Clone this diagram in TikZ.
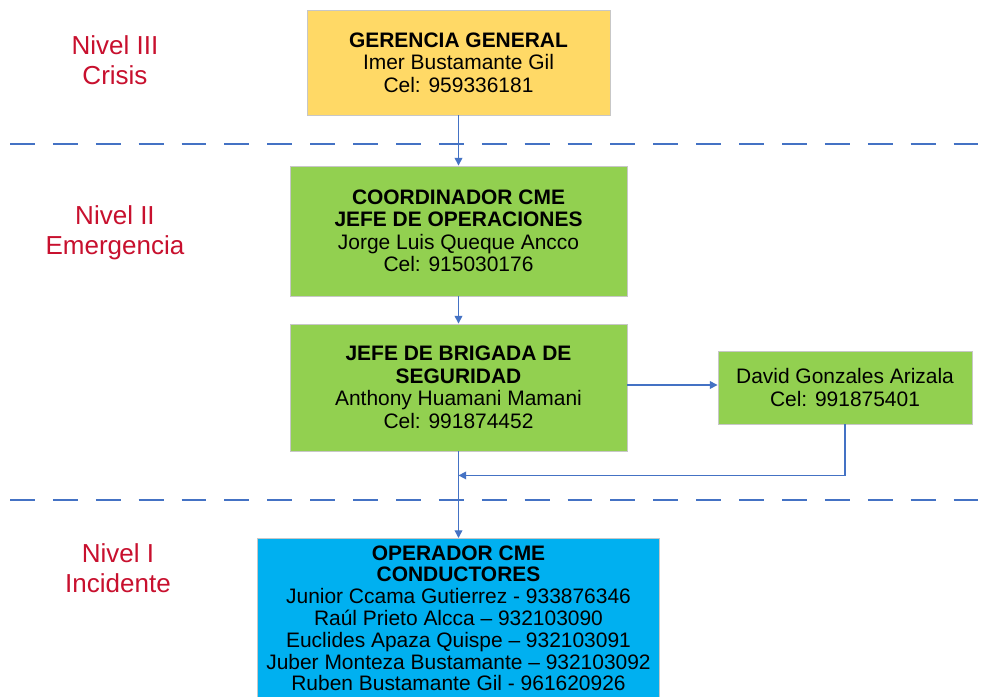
\documentclass[tikz,border=0pt]{standalone}
\usepackage{fontspec}
\setmainfont{Liberation Sans}
\usepackage{xcolor}
\usetikzlibrary{positioning,arrows.meta,calc}
\definecolor{cgold}{HTML}{FFD966}
\definecolor{cgreen}{HTML}{92D050}
\definecolor{ccyan}{HTML}{00B0F0}
\definecolor{cred}{HTML}{C8102E}
\definecolor{cblue}{HTML}{4472C4}

\tikzset{
  orgbox/.style={draw=black!22, line width=0.6pt, align=center, inner sep=2pt,
    font=\fontsize{14.9}{16}\selectfont},
  nivel/.style={text=cred, align=center, font=\fontsize{18.5}{21}\selectfont},
  conn/.style={cblue, line width=1pt, -{Triangle[length=5.5pt,width=5.5pt]}},
  levelline/.style={cblue, line width=1pt, dash pattern=on 17.7pt off 12.8pt}
}

\begin{document}
\begin{tikzpicture}[x=0.025cm, y=-0.025cm]
  \useasboundingbox (0,0) rectangle (983,696);
  \clip (0,0) rectangle (983,696);
  \fill[white] (0,0) rectangle (983,696);

  % separators between levels
  \draw[levelline] (10,144) -- (983,144);
  \draw[levelline] (10,500) -- (983,500);

  % level labels
  \node[nivel] (nivelIII) at (115,60) {Nivel III\\Crisis};
  \node[nivel] (nivelII) at (115,233) {Nivel II\\Emergencia};
  \node[nivel] (nivelI) at (118,568) {Nivel I\\Incidente};

  % boxes
  \node[orgbox, fill=cgold, minimum width=7.575cm, minimum height=2.625cm] (gerencia) at (458.5,62.5)
    {\textbf{GERENCIA GENERAL}\\Imer Bustamante Gil\\Cel: 959336181};
  \node[orgbox, fill=cgreen, minimum width=8.425cm, minimum height=3.25cm] (coordinador) at (458.5,231)
    {\textbf{COORDINADOR CME}\\\textbf{JEFE DE OPERACIONES}\\Jorge Luis Queque Ancco\\Cel: 915030176};
  \node[orgbox, fill=cgreen, minimum width=8.425cm, minimum height=3.175cm] (brigada) at (458.5,387.5)
    {\textbf{JEFE DE BRIGADA DE}\\\textbf{SEGURIDAD}\\Anthony Huamani Mamani\\Cel: 991874452};
  \node[orgbox, fill=cgreen, minimum width=6.35cm, minimum height=1.825cm] (apoyo) at (845,387.5)
    {David Gonzales Arizala\\Cel: 991875401};
  \node[orgbox, fill=ccyan, minimum width=10.05cm, anchor=north, inner sep=3pt, inner ysep=5pt,
    font=\fontsize{14.9}{15.5}\selectfont] (operador) at (458.5,538)
    {\textbf{OPERADOR CME}\\\textbf{CONDUCTORES}\\Junior Ccama Gutierrez - 933876346\\
     Raúl Prieto Alcca – 932103090\\Euclides Apaza Quispe – 932103091\\
     Juber Monteza Bustamante – 932103092\\Ruben Bustamante Gil - 961620926\\ \\ };

  % connectors
  \coordinate (merge) at ($(brigada.south)+(0,24)$);
  \draw[conn] (gerencia.south) -- (coordinador.north);
  \draw[conn] (coordinador.south) -- (brigada.north);
  \draw[conn] ($(brigada.east)+(0,-2.5)$) -- ($(apoyo.west)+(0,-2.5)$);
  \draw[conn] (apoyo.south) |- (merge);
  \draw[conn] (brigada.south) -- (operador.north);
\end{tikzpicture}
\end{document}
